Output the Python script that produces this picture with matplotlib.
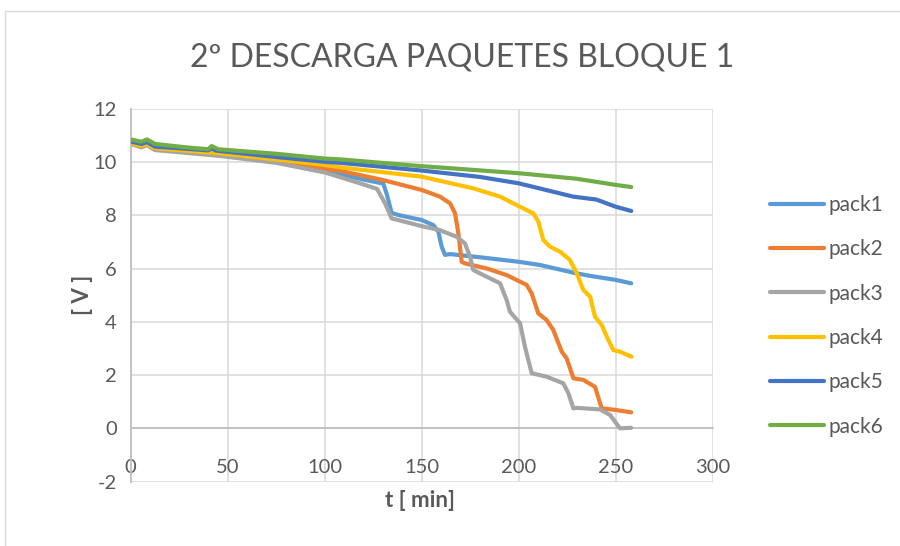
import matplotlib.pyplot as plt
from matplotlib.patches import Rectangle

plt.rcParams['font.family'] = ['Lato', 'DejaVu Sans']
plt.rcParams['axes.unicode_minus'] = False

# discharge curves, time in minutes and pack voltage in volts
t_pack1 = [0, 5.5, 8.4, 12.5, 46, 75, 100, 108, 120, 130.2, 132, 134.5, 137.9, 150, 156, 158.6,
           160.3, 162, 164.6, 180, 200, 211, 228.2, 236.8, 250, 258]
v_pack1 = [10.72, 10.6, 10.68, 10.5, 10.28, 10.02, 9.7, 9.55, 9.35, 9.2, 8.8, 8.1, 8.02, 7.83, 7.64, 7.39,
           6.83, 6.52, 6.55, 6.43, 6.26, 6.14, 5.85, 5.73, 5.58, 5.45]

t_pack2 = [0, 5.5, 8.4, 12.5, 46, 75, 100, 108, 130.2, 150, 159.4, 164.6, 167.2, 168.9, 170.6, 172.3,
           183.5, 193.8, 204.1, 206.7, 210.1, 214.4, 217.8, 222.2, 224.7, 228.2, 233.3, 239.3, 242.8,
           250, 258]
v_pack2 = [10.7, 10.6, 10.66, 10.5, 10.3, 10.05, 9.76, 9.68, 9.33, 8.96, 8.71, 8.46, 8.08, 7.33, 6.26, 6.2,
           6.01, 5.76, 5.39, 5.07, 4.32, 4.07, 3.7, 2.88, 2.63, 1.88, 1.82, 1.56, 0.75,
           0.69, 0.6]

t_pack3 = [0, 5.5, 8.4, 12.5, 46, 75, 100, 108, 118.2, 127, 131.1, 134.5, 137.9, 150, 159.4, 168,
           172.3, 174.9, 176.6, 181.8, 190.4, 193.8, 195.5, 200.7, 203.2, 206.7, 214.4, 223, 225.6,
           228.2, 229.9, 241.9, 247.1, 252.2, 258]
v_pack3 = [10.69, 10.56, 10.65, 10.46, 10.24, 9.98, 9.62, 9.44, 9.21, 9.0, 8.46, 7.89, 7.83, 7.6, 7.45, 7.2,
           6.95, 6.45, 5.95, 5.76, 5.45, 4.82, 4.38, 3.95, 3.07, 2.07, 1.94, 1.69, 1.32,
           0.75, 0.77, 0.71, 0.5, 0.0, 0.02]

t_pack4 = [0, 5.5, 8.4, 12.5, 46, 100, 108, 150, 176.6, 190.4, 199, 207.5, 210.1, 212.7, 216.1, 221.3,
           226.4, 229.9, 233.3, 236.8, 239.3, 242.8, 246.2, 248.8, 252.2, 258.2]
v_pack4 = [10.71, 10.62, 10.68, 10.53, 10.34, 9.9, 9.81, 9.46, 9.02, 8.71, 8.39, 8.08, 7.77, 7.08, 6.83, 6.64,
           6.33, 5.83, 5.2, 4.95, 4.2, 3.88, 3.32, 2.94, 2.88, 2.69]

t_pack5 = [0, 5.5, 8.4, 12.5, 40, 41.7, 44, 75, 100, 108, 150, 180, 200, 228, 240, 250, 258]
v_pack5 = [10.78, 10.69, 10.76, 10.59, 10.45, 10.52, 10.44, 10.2, 10.02, 9.98, 9.69, 9.45, 9.21, 8.71, 8.6,
           8.33, 8.17]

t_pack6 = [0, 5.5, 8.4, 12.5, 28.8, 40, 41.7, 45.1, 75, 100, 108, 149, 200, 230, 250, 258]
v_pack6 = [10.86, 10.77, 10.86, 10.69, 10.56, 10.49, 10.61, 10.49, 10.32, 10.14, 10.11, 9.86, 9.59, 9.38,
           9.15, 9.07]

series = [
    ('pack1', t_pack1, v_pack1, '#5B9BD5'),
    ('pack2', t_pack2, v_pack2, '#ED7D31'),
    ('pack3', t_pack3, v_pack3, '#A5A5A5'),
    ('pack4', t_pack4, v_pack4, '#FFC000'),
    ('pack5', t_pack5, v_pack5, '#4472C4'),
    ('pack6', t_pack6, v_pack6, '#70AD47'),
]

txt = '#595959'
fig = plt.figure(figsize=(9, 5.46), dpi=100)
ax = fig.add_axes([0.1452, 0.1181, 0.6467, 0.6821])

# chart border
fig.patches.append(Rectangle((5 / 900, -0.05), 1.0, 1 - 11 / 546 + 0.05, transform=fig.transFigure,
                             fill=False, edgecolor='#d9d9d9', lw=1))

for name, t, v, c in series:
    ax.plot(t, v, color=c, lw=3.0, label=name, solid_joinstyle='round', solid_capstyle='round', zorder=3)

ax.set_xlim(0, 300)
ax.set_ylim(-2, 12)
ax.set_xticks(range(0, 301, 50))
ax.set_yticks(range(-2, 13, 2))
ax.grid(True, color='#d9d9d9', lw=1.1, zorder=0)
ax.set_axisbelow(True)

for s in ['top', 'right']:
    ax.spines[s].set_visible(False)
ax.spines['bottom'].set_position(('data', 0))
ax.spines['bottom'].set_color('#bfbfbf')
ax.spines['left'].set_color('#bfbfbf')
ax.spines['bottom'].set_linewidth(1.3)
ax.spines['left'].set_linewidth(1.3)
ax.tick_params(axis='both', length=0, labelsize=14.5, colors=txt)
ax.tick_params(axis='x', pad=22)
ax.tick_params(axis='y', pad=10)

fig.suptitle('2º DESCARGA PAQUETES BLOQUE 1', x=0.513, y=0.922, fontsize=23, color=txt)
fig.text(0.092, 0.46, '[ V ]', rotation=90, ha='center', va='center', fontsize=16,
         fontweight='bold', color=txt)
fig.text(0.467, 0.083, 't [ min]', ha='center', va='center', fontsize=16, fontweight='bold', color=txt)

ax.legend(loc='center left', bbox_to_anchor=(0.855, 0.4216), bbox_transform=fig.transFigure,
          frameon=False, fontsize=15, labelcolor=txt, handlelength=2.6, handletextpad=0.25,
          labelspacing=1.17, borderpad=0, borderaxespad=0)

fig.savefig('out.png', dpi=100)
